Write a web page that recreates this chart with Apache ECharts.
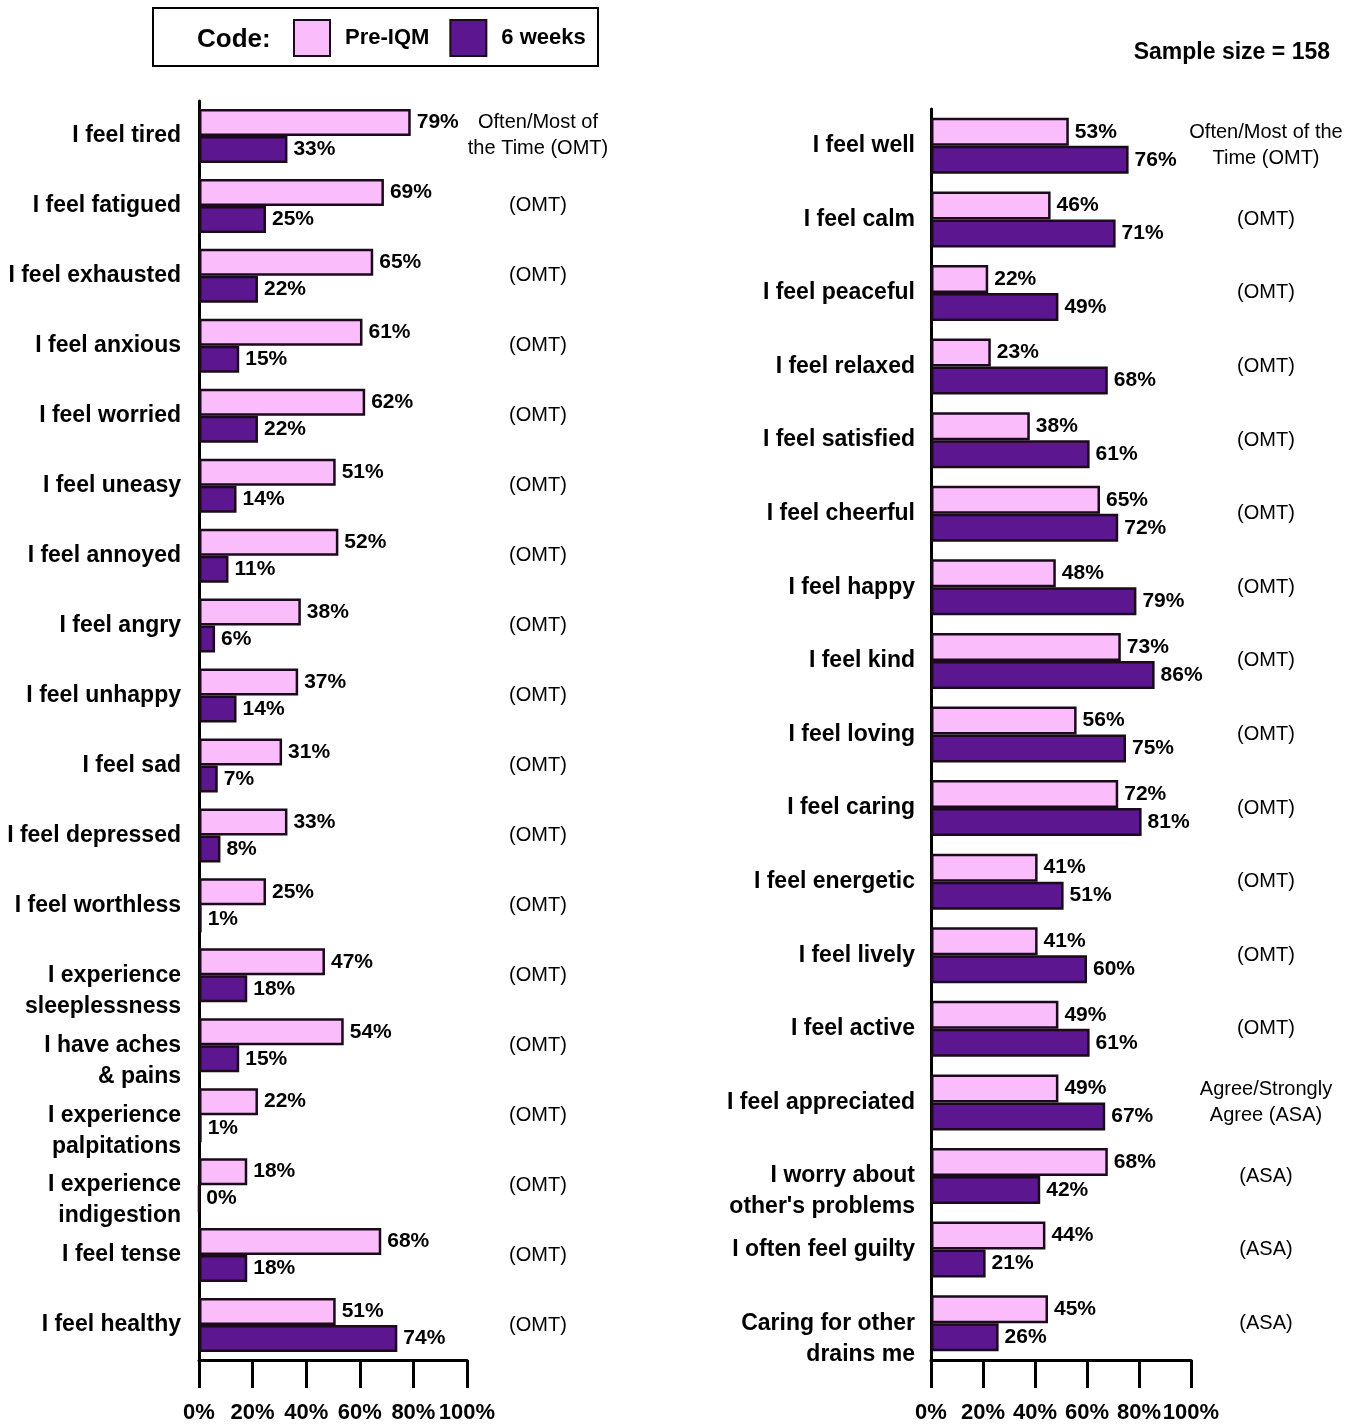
<!DOCTYPE html>
<html>
<head>
<meta charset="utf-8">
<title>IQM wellbeing</title>
<style>
html, body {
	margin: 0;
	padding: 0;
	background: #ffffff;
}

.one-page-echarts {
	width: 1354px;
	height: 1424px;
}
</style>
</head>
<body>
<div id="chartDom" class="one-page-echarts"></div>
<script src="https://cdn.jsdelivr.net/npm/echarts@6/dist/echarts.min.js"></script>
<script type="text/javascript">
	// left panel
	var leftCats = [ 'I feel tired', 'I feel fatigued', 'I feel exhausted',
			'I feel anxious', 'I feel worried', 'I feel uneasy',
			'I feel annoyed', 'I feel angry', 'I feel unhappy', 'I feel sad',
			'I feel depressed', 'I feel worthless',
			'\nI experience\nsleeplessness', '\nI have aches\n& pains',
			'\nI experience\npalpitations', '\nI experience\nindigestion',
			'I feel tense', 'I feel healthy' ];
	var leftPre = [ 79, 69, 65, 61, 62, 51, 52, 38, 37, 31, 33, 25, 47, 54, 22,
			18, 68, 51 ];
	var leftSix = [ 33, 25, 22, 15, 22, 14, 11, 6, 14, 7, 8, 1, 18, 15, 1, 0,
			18, 74 ];
	var leftNotes = [ 'Often/Most of\nthe Time (OMT)', '(OMT)', '(OMT)',
			'(OMT)', '(OMT)', '(OMT)', '(OMT)', '(OMT)', '(OMT)', '(OMT)',
			'(OMT)', '(OMT)', '(OMT)', '(OMT)', '(OMT)', '(OMT)', '(OMT)',
			'(OMT)' ];

	// right panel
	var rightCats = [ 'I feel well', 'I feel calm', 'I feel peaceful',
			'I feel relaxed', 'I feel satisfied', 'I feel cheerful',
			'I feel happy', 'I feel kind', 'I feel loving', 'I feel caring',
			'I feel energetic', 'I feel lively', 'I feel active',
			'I feel appreciated', '\nI worry about\nother\'s problems',
			'I often feel guilty', '\nCaring for other\ndrains me' ];
	var rightPre = [ 53, 46, 22, 23, 38, 65, 48, 73, 56, 72, 41, 41, 49, 49, 68,
			44, 45 ];
	var rightSix = [ 76, 71, 49, 68, 61, 72, 79, 86, 75, 81, 51, 60, 61, 67, 42,
			21, 26 ];
	var rightNotes = [ 'Often/Most of the\nTime (OMT)', '(OMT)', '(OMT)',
			'(OMT)', '(OMT)', '(OMT)', '(OMT)', '(OMT)', '(OMT)', '(OMT)',
			'(OMT)', '(OMT)', '(OMT)', 'Agree/Strongly\nAgree (ASA)', '(ASA)',
			'(ASA)', '(ASA)' ];

	var xTicks = [ 0, 20, 40, 60, 80, 100 ];
	var seriesNames = [ 'Pre-IQM', '6 weeks' ];
	var sampleText = 'Sample size = 158';
</script>
<script type="text/javascript">
	var FONT = 'Liberation Sans, Arial, sans-serif';
	var PINK = '#FABCFA';
	var PURPLE = '#5C1690';
	var EDGE = '#1a0a1a';

	function valueAxis(gridIndex) {
		return {
			type : 'value',
			gridIndex : gridIndex,
			min : xTicks[0],
			max : xTicks[xTicks.length - 1],
			interval : xTicks[1] - xTicks[0],
			axisLine : {
				show : true,
				lineStyle : {
					color : '#000',
					width : 3
				}
			},
			axisTick : {
				show : true,
				length : 28,
				lineStyle : {
					color : '#000',
					width : 3
				}
			},
			splitLine : {
				show : false
			},
			axisLabel : {
				margin : 42,
				showMinLabel : true,
				showMaxLabel : true,
				hideOverlap : false,
				fontFamily : FONT,
				fontWeight : 'bold',
				fontSize : 22,
				color : '#000',
				formatter : '{value}%'
			}
		};
	}

	function catAxis(gridIndex, cats, margin) {
		return {
			type : 'category',
			gridIndex : gridIndex,
			inverse : true,
			data : cats,
			axisLine : {
				lineStyle : {
					color : '#000',
					width : 3
				}
			},
			axisTick : {
				length : 6,
				lineStyle : {
					color : '#000',
					width : 3
				}
			},
			axisLabel : {
				margin : margin,
				fontFamily : FONT,
				fontWeight : 'bold',
				fontSize : 23,
				lineHeight : 31,
				color : '#000'
			}
		};
	}

	function noteAxis(gridIndex, notes, margin) {
		return {
			type : 'category',
			gridIndex : gridIndex,
			position : 'right',
			inverse : true,
			data : notes,
			axisLine : {
				show : false
			},
			axisTick : {
				show : false
			},
			axisLabel : {
				margin : margin,
				align : 'center',
				fontFamily : FONT,
				fontSize : 20,
				lineHeight : 26,
				color : '#000'
			}
		};
	}

	function barSeries(name, xi, yi, data, color, width) {
		return {
			name : name,
			type : 'bar',
			xAxisIndex : xi,
			yAxisIndex : yi,
			barWidth : width,
			barGap : '0%',
			data : data,
			itemStyle : {
				color : color,
				borderColor : EDGE,
				borderWidth : 2.5
			},
			label : {
				show : true,
				position : 'right',
				distance : 6,
				fontFamily : FONT,
				fontWeight : 'bold',
				fontSize : 21,
				color : '#000',
				formatter : '{c}%'
			}
		};
	}

	var myChart = echarts.init(document.getElementById('chartDom'));
	var option = {
		animation : false,
		backgroundColor : '#ffffff',
		grid : [ {
			left : 199,
			width : 268,
			top : 101,
			bottom : 62,
			containLabel : false
		}, {
			left : 931,
			width : 260,
			top : 109,
			bottom : 62,
			containLabel : false
		} ],
		legend : {
			data : seriesNames,
			left : 288,
			top : 14,
			itemWidth : 36,
			itemHeight : 36,
			itemGap : 20,
			icon : 'rect',
			textStyle : {
				fontFamily : FONT,
				fontWeight : 'bold',
				fontSize : 22,
				color : '#000',
				padding : [ 8, 0, 0, 10 ]
			}
		},
		graphic : [ {
			type : 'rect',
			shape : {
				x : 153,
				y : 8,
				width : 445,
				height : 58
			},
			style : {
				fill : 'none',
				stroke : '#000',
				lineWidth : 2
			}
		}, {
			type : 'text',
			left : 197,
			top : 27,
			style : {
				text : 'Code:',
				font : 'bold 26px ' + FONT,
				fill : '#000'
			}
		}, {
			type : 'text',
			right : 24,
			top : 41,
			style : {
				text : sampleText,
				font : 'bold 23px ' + FONT,
				fill : '#000'
			}
		} ],
		xAxis : [ valueAxis(0), valueAxis(1) ],
		yAxis : [ catAxis(0, leftCats, 18), noteAxis(0, leftNotes, 71),
				catAxis(1, rightCats, 16), noteAxis(1, rightNotes, 75) ],
		series : [ barSeries(seriesNames[0], 0, 0, leftPre, PINK, 27),
				barSeries(seriesNames[1], 0, 0, leftSix, PURPLE, 27),
				barSeries(seriesNames[0], 1, 2, rightPre, PINK, 28),
				barSeries(seriesNames[1], 1, 2, rightSix, PURPLE, 28) ]
	};
	myChart.setOption(option);
</script>
</body>
</html>
